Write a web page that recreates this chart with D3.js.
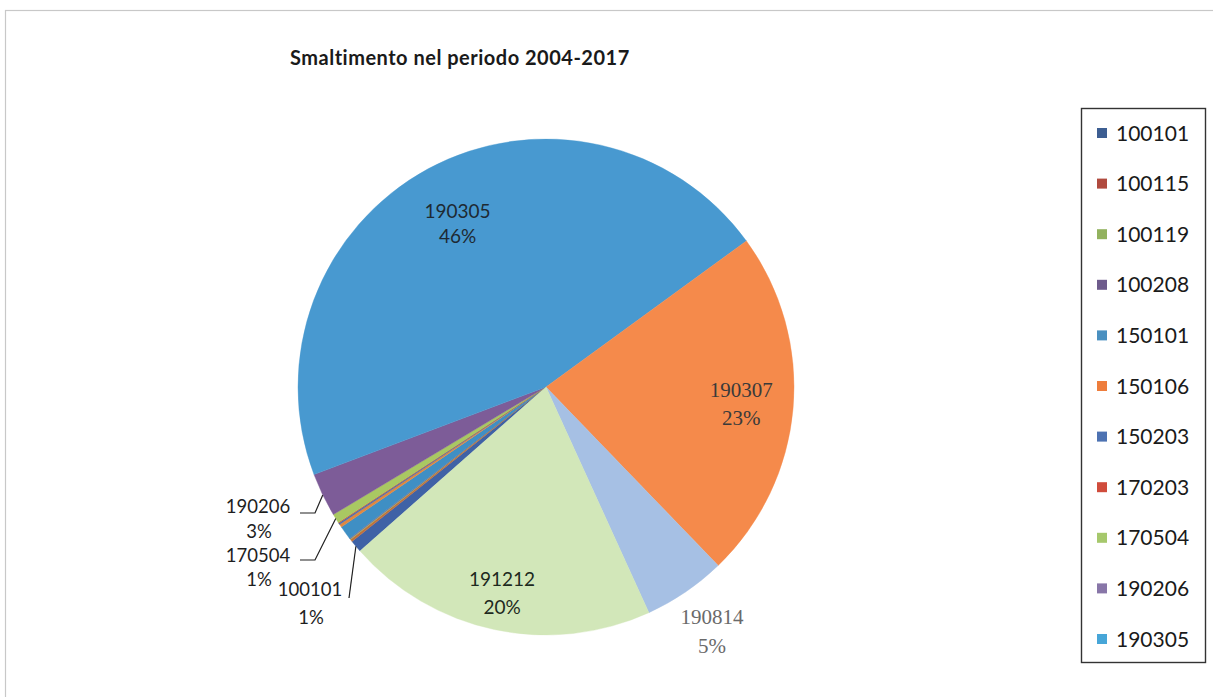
<!DOCTYPE html>
<html>
<head>
<meta charset="utf-8">
<script src="https://cdn.jsdelivr.net/npm/d3@7"></script>
<style>
  html, body { margin: 0; padding: 0; background: #ffffff; }
  svg { display: block; }
</style>
</head>
<body>
<svg id="chart" width="1213" height="697"></svg>
<script>
// Waste codes (EER) disposed of, 2004-2017, share of total (%)
const categories = ["100101", "100115", "100119", "100208", "150101", "150106",
                    "150203", "170203", "170504", "190206", "190305", "190307",
                    "190814", "191212"];
const shares = [0.8, 0.15, 0.05, 0.05, 0.9, 0.2,
                0.1, 0.05, 0.6, 2.85, 45.7, 22.8,
                5.4, 20.3];
// Codes listed in the legend box
const legendCodes = categories.slice(0, 11);

const sliceColors = {
  "100101": "#3f62a6", "100115": "#c0703c", "100119": "#9cbf5e", "100208": "#7a5c96",
  "150101": "#3f8fc4", "150106": "#e08840", "150203": "#4a70b4", "170203": "#c85a3c",
  "170504": "#a9c862", "190206": "#7d5c98", "190305": "#4899d0", "190307": "#f58a4b",
  "190814": "#a6c0e4", "191212": "#d2e7b9"
};
const legendColors = {
  "100101": "#3d5e92", "100115": "#b04a3e", "100119": "#92b25e", "100208": "#6e5b8c",
  "150101": "#4a90c0", "150106": "#ee7d3c", "150203": "#4d72b2", "170203": "#d04c3c",
  "170504": "#a6c86c", "190206": "#8876a8", "190305": "#47a6d8"
};

const svg = d3.select("#chart");
const W = 1213, H = 697;
const sansFont = "Lato, 'Open Sans', sans-serif";
const serifFont = "'Liberation Serif', 'DejaVu Serif', serif";

// chart area frame
svg.append("rect")
  .attr("x", 5.5).attr("y", 10.5)
  .attr("width", W + 20).attr("height", H + 20)
  .attr("fill", "none").attr("stroke", "#c8c8c8").attr("stroke-width", 1.2);

// title
svg.append("text")
  .attr("x", 290).attr("y", 65)
  .attr("font-family", sansFont)
  .attr("font-weight", "bold")
  .attr("font-size", 20)
  .attr("letter-spacing", 0.5)
  .attr("fill", "#1a1a1a")
  .text("Smaltimento nel periodo 2004-2017");

// pie
const cx = 546, cy = 387, R = 248;
const total = d3.sum(shares);
const data = categories.map((c, i) => ({ code: c, value: shares[i] }));
const start = 228.6 * Math.PI / 180;
const pie = d3.pie().value(d => d.value).sort(null)
  .startAngle(start).endAngle(start + 2 * Math.PI);
const arcs = pie(data);
const arc = d3.arc().innerRadius(0).outerRadius(R);

const g = svg.append("g").attr("transform", `translate(${cx},${cy})`);
g.selectAll("path.slice")
  .data(arcs)
  .join("path")
  .attr("class", "slice")
  .attr("d", arc)
  .attr("fill", d => sliceColors[d.data.code])
  .attr("stroke", d => sliceColors[d.data.code])
  .attr("stroke-width", 0.4);

const pct = d => Math.round(d.data.value / total * 100) + "%";

// labels drawn inside or just outside their slice
const radialLabels = [
  { code: "190305", r: 0.75, font: sansFont, size: 19, fill: "#1e2a33", gap: 25 },
  { code: "190307", r: 0.79, font: serifFont, size: 21, fill: "#3a3a3a", gap: 28 },
  { code: "191212", r: 0.85, font: sansFont, size: 19, fill: "#1e2a1e", gap: 28 },
  { code: "190814", r: 1.19, font: serifFont, size: 21, fill: "#6a6a6a", gap: 29 }
];
radialLabels.forEach(L => {
  const a = arcs.find(d => d.data.code === L.code);
  const mid = (a.startAngle + a.endAngle) / 2;
  const x = Math.sin(mid) * R * L.r, y = -Math.cos(mid) * R * L.r;
  const t = g.append("text")
    .attr("text-anchor", "middle")
    .attr("font-family", L.font).attr("font-size", L.size).attr("fill", L.fill);
  t.append("tspan").attr("x", x).attr("y", y - L.gap / 2).attr("dy", "0.35em").text(L.code);
  t.append("tspan").attr("x", x).attr("y", y + L.gap / 2).attr("dy", "0.35em").text(pct(a));
});

// small slices labelled outside, with leader lines
const calloutLabels = [
  { code: "190206", tx: -288, ty: 120, pctGap: 25, elbow: [-231, 126], end: [-246, 126] },
  { code: "170504", tx: -288, ty: 169, pctGap: 24, elbow: [-231, 173], end: [-246, 173] },
  { code: "100101", tx: -236, ty: 203, pctGap: 28, elbow: null, end: [-197, 211] }
];
calloutLabels.forEach(L => {
  const a = arcs.find(d => d.data.code === L.code);
  const mid = (a.startAngle + a.endAngle) / 2;
  const p0 = [Math.sin(mid) * R, -Math.cos(mid) * R];
  const pts = L.elbow ? [p0, L.elbow, L.end] : [p0, L.end];
  g.append("path")
    .attr("d", d3.line()(pts))
    .attr("fill", "none").attr("stroke", "#222").attr("stroke-width", 1.2);
  const t = g.append("text")
    .attr("text-anchor", "middle")
    .attr("font-family", sansFont).attr("font-size", 18.5).attr("fill", "#1e1e1e");
  t.append("tspan").attr("x", L.tx).attr("y", L.ty).attr("dy", "0.35em").text(L.code);
  t.append("tspan").attr("x", L.tx + 1).attr("y", L.ty + L.pctGap).attr("dy", "0.35em").text(pct(a));
});

// legend
const legend = svg.append("g");
const lx = 1081, ly = 108, lw = 124, lh = 554;
legend.append("rect")
  .attr("x", lx + 0.5).attr("y", ly + 0.5).attr("width", lw).attr("height", lh)
  .attr("fill", "#fff").attr("stroke", "#333").attr("stroke-width", 1.4);
const ly0 = 133, lstep = 50.6;
const items = legend.selectAll("g.item")
  .data(legendCodes)
  .join("g").attr("class", "item")
  .attr("transform", (d, i) => `translate(${lx}, ${ly0 + i * lstep})`);
items.append("rect")
  .attr("x", 16).attr("y", -5).attr("width", 10).attr("height", 10)
  .attr("fill", d => legendColors[d]);
items.append("text")
  .attr("x", 35).attr("y", 0).attr("dy", "0.36em")
  .attr("font-family", sansFont).attr("font-size", 21).attr("fill", "#1a1a1a")
  .text(d => d);
</script>
</body>
</html>
